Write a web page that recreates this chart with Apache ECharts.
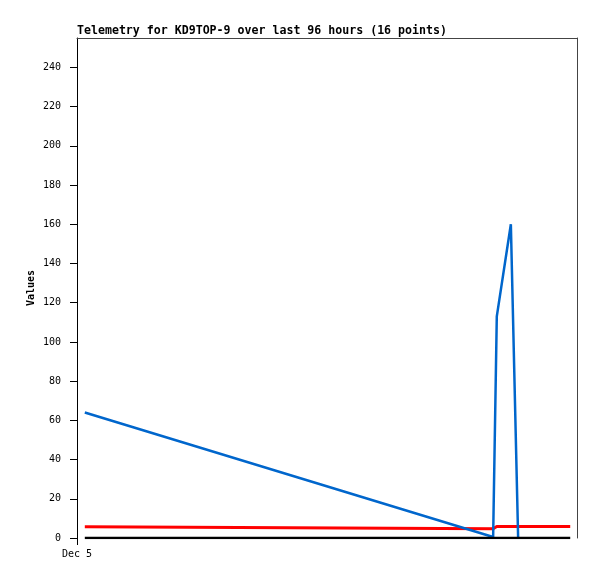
<!DOCTYPE html>
<html><head><meta charset="utf-8">
<script src="https://cdn.jsdelivr.net/npm/echarts@6/dist/echarts.min.js"></script>
<style>html,body{margin:0;padding:0;background:#fff}#c{width:597px;height:579px}</style>
</head><body><div id="c"></div>
<script>
// Data (x = hours since Dec 5 00:00)
const titleText = 'Telemetry for KD9TOP-9 over last 96 hours (16 points)';
const blueHours = [1.5, 79.9, 80.6, 83.3, 84.7];
const blueValues = [64, 0.5, 113, 160, 0];
const redHours = [1.5, 79.9, 80.6, 94.7];
const redValues = [5.8, 4.7, 5.9, 5.9];
const blackHours = [1.5, 94.7];
const blackValues = [0, 0];
const yTickValues = [0, 20, 40, 60, 80, 100, 120, 140, 160, 180, 200, 220, 240];
const xTickValues = [0];
const xTickLabels = ['Dec 5'];

const zip = (xs, ys) => xs.map((x, i) => [x, ys[i]]);
const mono = 'DejaVu Sans Mono';
const chart = echarts.init(document.getElementById('c'), null, {renderer: 'canvas'});
chart.setOption({
  animation: false,
  title: {text: titleText, left: 77, top: 25, padding: 0,
    textStyle: {fontFamily: mono, fontSize: 11.6, fontWeight: 'bold', color: '#000'}},
  grid: {left: 77, right: 20, top: 38, bottom: 41},
  xAxis: [{
    type: 'value', min: 0, max: 96, interval: 96,
    axisLine: {show: false}, splitLine: {show: false},
    axisTick: {show: true, length: 7, customValues: xTickValues, lineStyle: {color: '#000', width: 1}},
    axisLabel: {customValues: xTickValues, margin: 11, fontFamily: mono, fontSize: 10, color: '#000',
      formatter: v => { const i = xTickValues.indexOf(v); return i >= 0 ? xTickLabels[i] : ''; }}
  }, {
    type: 'value', position: 'top', min: 0, max: 96,
    axisLine: {show: true, onZero: false, lineStyle: {color: '#444', width: 1}},
    axisTick: {show: false}, axisLabel: {show: false}, splitLine: {show: false}
  }],
  yAxis: [{
    type: 'value', min: 0, max: 255, interval: 20,
    name: 'Values', nameLocation: 'middle', nameGap: 41, nameMoveOverlap: false,
    nameTextStyle: {fontFamily: mono, fontSize: 10, fontWeight: 'bold', color: '#000'},
    axisLine: {show: true, onZero: false, lineStyle: {color: '#000', width: 1}},
    axisTick: {show: true, length: 7, customValues: yTickValues, lineStyle: {color: '#000'}},
    axisLabel: {customValues: yTickValues, margin: 16, fontFamily: mono, fontSize: 10, color: '#000'},
    splitLine: {show: false}
  }, {
    type: 'value', position: 'right', min: 0, max: 255,
    axisLine: {show: true, onZero: false, lineStyle: {color: '#444', width: 1}},
    axisTick: {show: false}, axisLabel: {show: false}, splitLine: {show: false}
  }],
  series: [
    {type: 'line', data: zip(blueHours, blueValues), showSymbol: false,
      lineStyle: {color: '#0066cc', width: 2.5}, z: 3},
    {type: 'line', data: zip(redHours, redValues), showSymbol: false,
      lineStyle: {color: '#ff0000', width: 3}, z: 2},
    {type: 'line', data: zip(blackHours, blackValues), showSymbol: false,
      lineStyle: {color: '#000000', width: 2.5}, z: 4}
  ]
});
</script></body></html>
